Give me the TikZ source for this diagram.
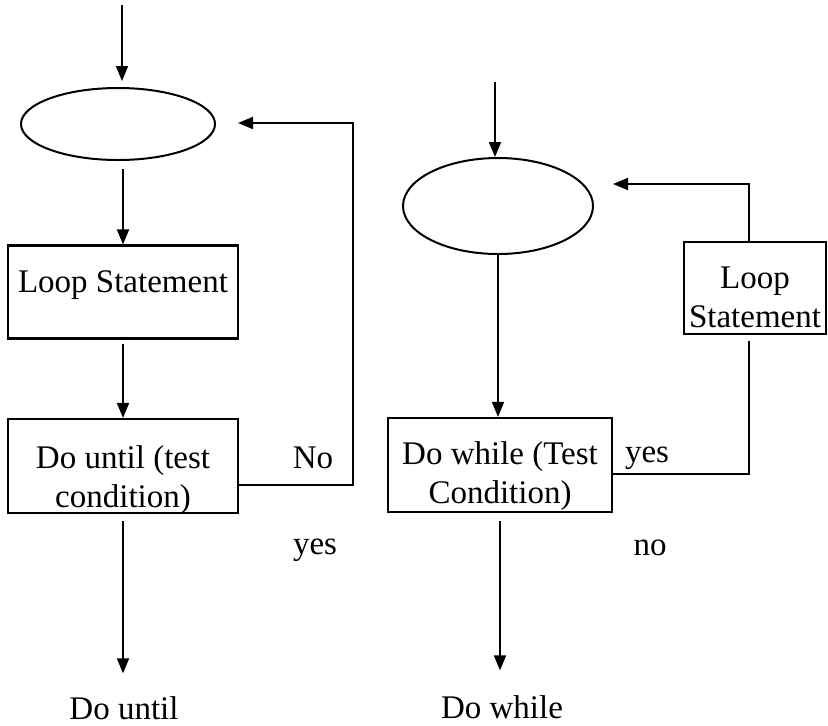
\documentclass[tikz,border=0pt]{standalone}
\usepackage{fontspec}
\setmainfont{Liberation Serif}
\usetikzlibrary{arrows.meta,shapes.geometric}

\begin{document}
\begin{tikzpicture}[x=0.5pt,y=-0.5pt,font=\fontsize{16.5}{19.5}\selectfont,
    stmt/.style={draw,line width=1.1pt,inner sep=0pt,align=center},
    oval/.style={draw,ellipse,line width=1pt,inner sep=0pt},
    flow/.style={-{Triangle[length=7.5pt,width=6pt]},line width=0.9pt},
    plain/.style={line width=0.9pt}]
  \useasboundingbox (0,0) rectangle (828,725);
  % do until
  \coordinate (inL) at (122,5);
  \node[oval,minimum width=97pt,minimum height=36pt] (ovalL) at (118,124) {};
  \node[stmt,minimum width=115pt,minimum height=46.5pt,text height=23.5pt,text depth=23pt]
    (loopL) at (123,292) {Loop Statement};
  \node[stmt,minimum width=115pt,minimum height=47pt,text height=44pt,text depth=3pt]
    (du) at (123,466) {Do until (test\\condition)};
  \node (duout) at (124,708) {Do until};
  \node (noL) at (313,458) {No};
  \node (yesL) at (315,550) {yes};
  \coordinate (turnL) at (353,485);
  \coordinate (backL) at (238,123);
  \draw[flow,shorten >=3pt] (inL) -- (inL |- ovalL.north);
  \draw[flow,shorten <=4pt] (ovalL.south -| loopL.north) -- (loopL.north);
  \draw[flow,shorten <=2pt] (loopL.south) -- (du.north);
  \draw[flow,shorten <=3.5pt,shorten >=8pt] (du.south) -- (du.south |- duout.north);
  \draw[flow] (du.east |- turnL) -- (turnL) |- (backL);
  % do while
  \coordinate (inR) at (495,82);
  \node[oval,minimum width=95pt,minimum height=48pt] (ovalR) at (498,206) {};
  \node[stmt,minimum width=71pt,minimum height=46pt,text height=42.5pt,text depth=3.5pt]
    (loopR) at (755,288) {Loop\\Statement};
  \node[stmt,minimum width=112pt,minimum height=47pt,text height=42.5pt,text depth=4.5pt]
    (dw) at (500,465) {Do while (Test\\Condition)};
  \node (dwout) at (502,707) {Do while};
  \node (yesR) at (647,458) {yes};
  \node (noR) at (650,548) {no};
  \coordinate (turnR) at (749,474);
  \coordinate (backR) at (613,184);
  \draw[flow] (inR) -- (inR |- ovalR.north);
  \draw[flow] (ovalR.south) -- (ovalR.south |- dw.north);
  \draw[flow,shorten <=4pt,shorten >=9pt] (dw.south) -- (dw.south |- dwout.north);
  \draw[plain,shorten >=3pt] (dw.east |- turnR) -- (turnR) -- (turnR |- loopR.south);
  \draw[flow] (turnR |- loopR.north) |- (backR);
\end{tikzpicture}
\end{document}
